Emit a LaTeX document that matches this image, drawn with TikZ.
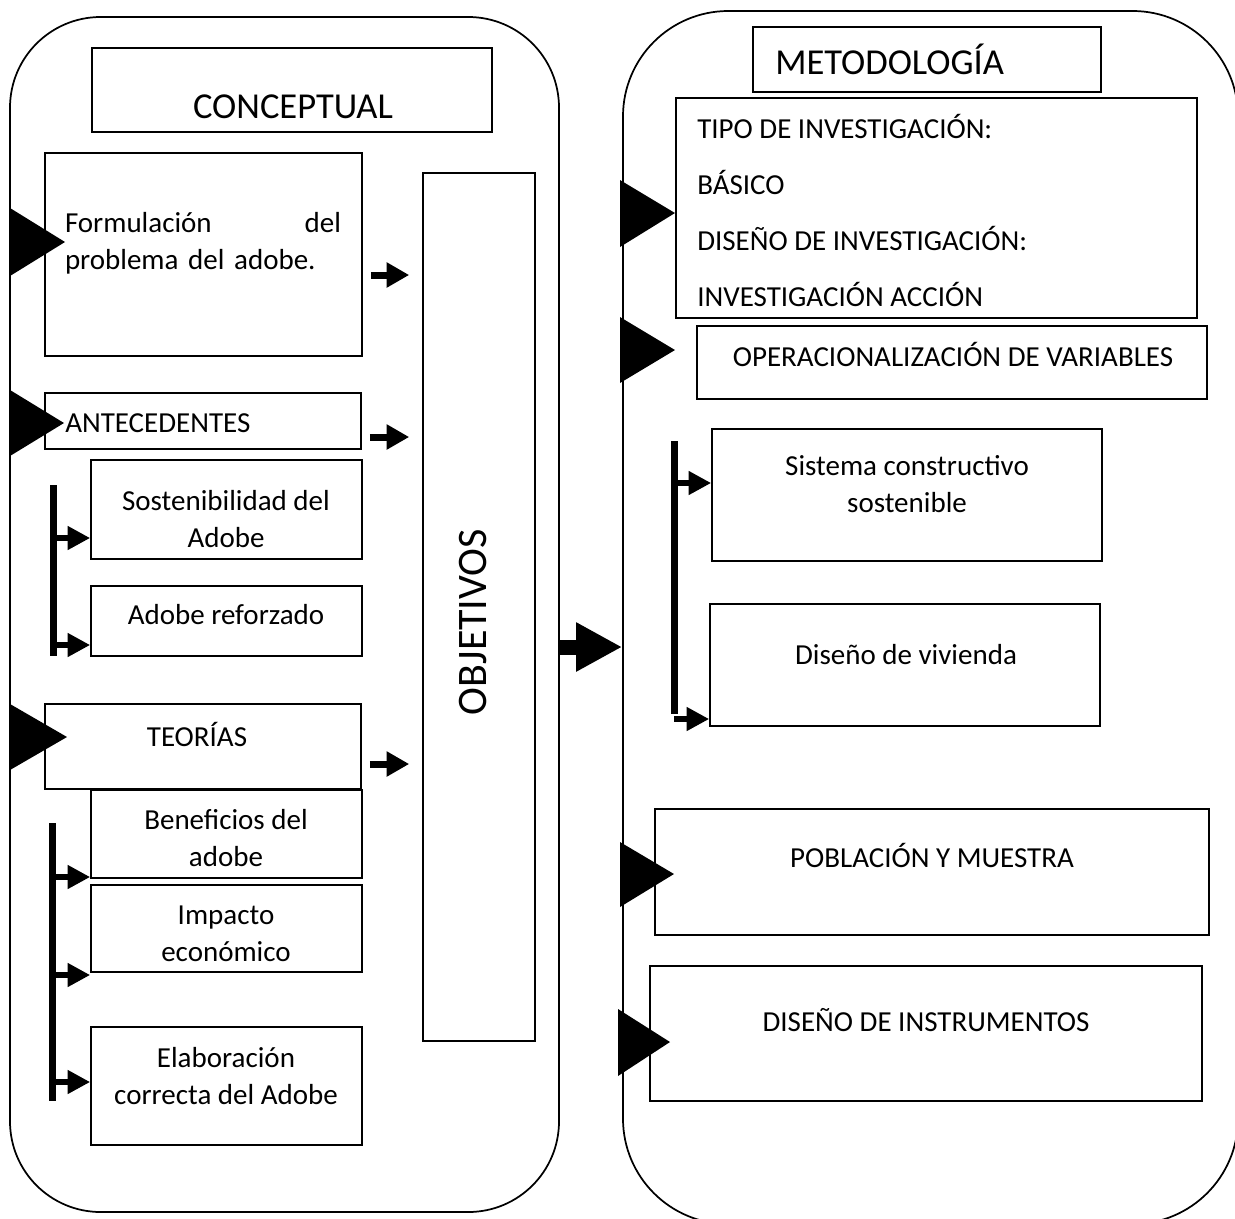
\documentclass[tikz,border=0pt]{standalone}
\usepackage{fontspec}
\setmainfont{Carlito}
\usetikzlibrary{arrows.meta,fit,calc}
\begin{document}
\begin{tikzpicture}[x=0.75pt,y=-0.75pt,
  box/.style={draw, line width=1.2pt, inner sep=0pt},
  cont/.style={draw, line width=1.3pt, inner sep=0pt},
  txt/.style={inner sep=0pt, font=\fontsize{21.75}{27.75}\selectfont, align=center},
  bigtxt/.style={inner sep=0pt, font=\fontsize{27.4}{33}\selectfont},
  objtxt/.style={inner sep=0pt, font=\fontsize{31.5}{36}\selectfont},
  sarr/.style={line width=5.25pt, -{Triangle[length=17pt,width=18pt]}},
  barr/.style={line width=4.5pt, -{Triangle[length=17pt,width=17pt]}},
  hugearr/.style={line width=11.25pt, -{Triangle[length=34.5pt,width=34.5pt]}},
  brk/.style={line width=5.25pt},
  tri/.style={fill=black}
]
\useasboundingbox (0,0) rectangle (1235,1218);
\clip (0,0) rectangle (1235,1218);

% containers
\node[cont, rounded corners=68pt, fit={(10,17) (559,1212)}] (left) {};
\node[cont, rounded corners=79pt, fit={(623,11) (1238,1224)}] (right) {};

% left boxes
\node[box, fit={(92,48) (492,132)}] (conc) {};
\node[box, fit={(45,153) (362,356)}] (form) {};
\node[box, fit={(45,393) (361,449)}] (ante) {};
\node[box, fit={(91,460) (362,559)}] (sost) {};
\node[box, fit={(91,586) (362,656)}] (refo) {};
\node[box, fit={(45,704) (361,789)}] (teor) {};
\node[box, fit={(91,790) (362,878)}] (bene) {};
\node[box, fit={(91,885) (362,972)}] (impa) {};
\node[box, fit={(91,1027) (362,1145)}] (elab) {};
\node[box, fit={(423,173) (535,1041)}] (obj) {};

% right boxes
\node[box, fit={(753,27) (1101,92)}] (meto) {};
\node[box, fit={(676,98) (1197,318)}] (tipo) {};
\node[box, fit={(697,326) (1207,399)}] (oper) {};
\node[box, fit={(712,429) (1102,561)}] (sist) {};
\node[box, fit={(710,604) (1100,726)}] (vivi) {};
\node[box, fit={(655,809) (1209,935)}] (pobl) {};
\node[box, fit={(650,966) (1202,1101)}] (inst) {};

% texts left
\node[bigtxt, anchor=base] (tconc) at (293,118) {CONCEPTUAL};
\node[txt, text width=207pt, align=left] (tform) at (203,243) {Formulación\hfill del\\problema del adobe.};
\node[txt, anchor=base west] (tante) at (65,432) {ANTECEDENTES};
\node[txt] (tsost) at (226,519) {Sostenibilidad del\\Adobe};
\node[txt, anchor=base] (trefo) at (226,624) {Adobe reforzado};
\node[txt, anchor=base] (tteor) at (197,746) {TEORÍAS};
\node[txt] (tbene) at (226,838) {Beneficios del\\adobe};
\node[txt] (timpa) at (226,934) {Impacto\\económico};
\node[txt] (telab) at (226,1076) {Elaboración\\correcta del Adobe};
\node[objtxt, rotate=90, anchor=base] (tobj) at (486,622) {OBJETIVOS};

% texts right
\node[bigtxt, anchor=base west] (tmeto) at (775,74) {METODOLOGÍA};
\node[txt, anchor=base west] (tipo1) at (697,138) {TIPO DE INVESTIGACIÓN:};
\node[txt, anchor=base west] (tipo2) at (697,194) {BÁSICO};
\node[txt, anchor=base west] (tipo3) at (697,250) {DISEÑO DE INVESTIGACIÓN:};
\node[txt, anchor=base west] (tipo4) at (697,306) {INVESTIGACIÓN ACCIÓN};
\node[txt, anchor=base] (toper) at (953,366) {OPERACIONALIZACIÓN DE VARIABLES};
\node[txt] (tsist) at (907,484) {Sistema constructivo\\sostenible};
\node[txt, anchor=base] (tvivi) at (906,664) {Diseño de vivienda};
\node[txt, anchor=base] (tpobl) at (932,867) {POBLACIÓN Y MUESTRA};
\node[txt, anchor=base] (tinst) at (926,1031) {DISEÑO DE INSTRUMENTOS};

% big triangles on container edges
\fill[tri] (10,208) -- (65,242) -- (10,276) -- cycle;
\fill[tri] (10,390) -- (64,423) -- (10,456) -- cycle;
\fill[tri] (10,704) -- (67,737) -- (10,770) -- cycle;
\fill[tri] (620,180) -- (675,213) -- (620,247) -- cycle;
\fill[tri] (620,317) -- (675,350) -- (620,383) -- cycle;
\fill[tri] (620,842) -- (674,874) -- (620,907) -- cycle;
\fill[tri] (618,1009) -- (670,1042) -- (618,1076) -- cycle;

% arrows to OBJETIVOS
\draw[sarr, shorten <=6pt, shorten >=9.75pt] (form.east |- 0,275) -- (obj.west |- 0,275);
\draw[sarr, shorten <=6pt, shorten >=9.75pt] (ante.east |- 0,437) -- (obj.west |- 0,437);
\draw[sarr, shorten <=6pt, shorten >=9.75pt] (teor.east |- 0,764) -- (obj.west |- 0,764);

% brackets left
\coordinate (b1top) at (53,485);
\coordinate (b1bot) at (53,656);
\draw[brk] (b1top) -- (b1bot);
\draw[barr] (b1top |- 0,538) -- (sost.west |- 0,538);
\draw[barr] (b1top |- 0,645) -- (refo.west |- 0,645);

\coordinate (b2top) at (52,823);
\coordinate (b2bot) at (52,1101);
\draw[brk] (b2top) -- (b2bot);
\draw[barr] (b2top |- 0,877) -- (bene.west |- 0,877);
\draw[barr] (b2top |- 0,975) -- (impa.west |- 0,975);
\draw[barr] (b2top |- 0,1082) -- (elab.west |- 0,1082);

% bracket right
\coordinate (b3top) at (674,441);
\coordinate (b3bot) at (674,714);
\draw[brk] (b3top) -- (b3bot);
\draw[barr] (b3top |- 0,483) -- (sist.west |- 0,483);
\draw[barr] (b3top |- 0,719) -- (vivi.west |- 0,719);

% arrow between panels
\draw[hugearr] (left.east |- 0,647) -- (right.west |- 0,647);
\end{tikzpicture}
\end{document}
